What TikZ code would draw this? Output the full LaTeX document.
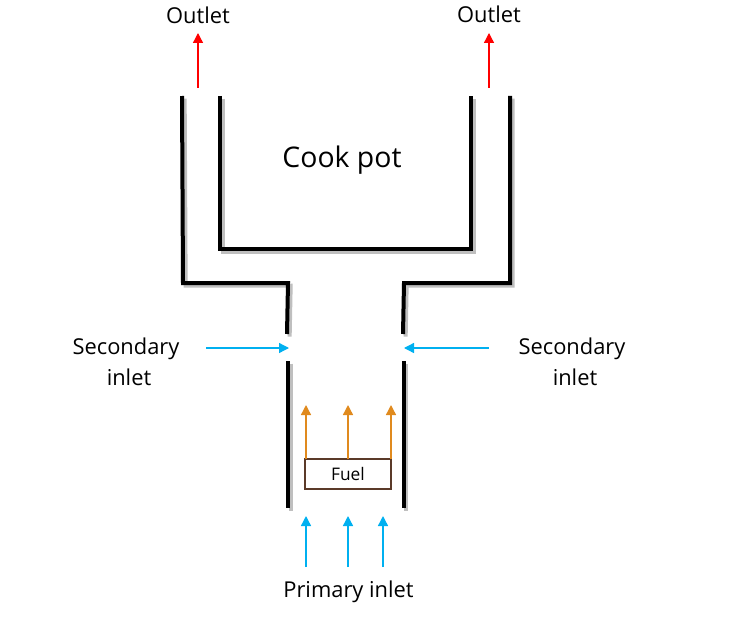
\documentclass[tikz,border=0pt]{standalone}
\usepackage{fontspec}
\setmainfont{Open Sans}
\usetikzlibrary{arrows.meta}
\definecolor{cblue}{HTML}{00B0F0}
\definecolor{corange}{HTML}{E08A1E}
\definecolor{cbrown}{HTML}{5B3A29}
\tikzset{x=0.75pt,y=-0.75pt,
 wall/.style={line width=3pt,black,line cap=butt,line join=miter},
 wallshadow/.style={line width=3pt,black!25,line cap=butt,line join=miter,xshift=2pt,yshift=-2pt},
 arrowline/.style={line width=1pt,-{Triangle[length=7.5pt,width=7.5pt]}},
 flowred/.style={arrowline,red},
 flowblue/.style={arrowline,cblue},
 floworange/.style={arrowline,corange},
 lab/.style={font=\fontsize{16.4}{23.2}\selectfont,align=center,text=black,inner sep=0pt},
 fuelbox/.style={draw=cbrown,line width=1.1pt,fill=white,minimum width=64.5pt,minimum height=22.5pt,inner sep=0pt,font=\fontsize{13}{15}\selectfont}}
\begin{document}
\begin{tikzpicture}
\useasboundingbox (0,0) rectangle (735,635);
\foreach \s in {wallshadow,wall}{
\draw[\s] (182,96) -- (183,283) -- (288,283) -- (287,334);
\draw[\s] (510,96) -- (510,283) -- (404,283) -- (403,334);
\draw[\s] (220,96) -- (220,249) -- (471,249) -- (471,96);
\draw[\s] (288,361) -- (288,508);
\draw[\s] (403.5,361) -- (403.5,508);
}
\node[fuelbox] (fuel) at (348,474) {Fuel};
\node[lab] (out1) at (198,15) {Outlet};
\node[lab] (out2) at (489,14) {Outlet};
\node[lab,font=\fontsize{21.3}{25}\selectfont] (pot) at (342,160) {Cook pot};
\node[lab] (sec1) at (126,361.5) {Secondary\\\hspace*{4.5pt}inlet};
\node[lab] (sec2) at (572,361.5) {Secondary\\\hspace*{4.5pt}inlet};
\node[lab] (prim) at (348.5,592) {Primary inlet};
\coordinate (r1) at (198,88); \coordinate (r1t) at (198,33);
\coordinate (r2) at (489,88); \coordinate (r2t) at (489,33);
\draw[flowred] (r1) -- (r1t);
\draw[flowred] (r2) -- (r2t);
\coordinate (s1) at (206,348); \coordinate (s1t) at (289,348);
\coordinate (s2) at (489,348); \coordinate (s2t) at (404,348);
\draw[flowblue] (s1) -- (s1t);
\draw[flowblue] (s2) -- (s2t);
\foreach \x/\n in {306/a,348/b,383/c}{
 \coordinate (p\n) at (\x,567); \coordinate (p\n t) at (\x,516);
 \draw[flowblue] (p\n) -- (p\n t);
}
\foreach \x/\n in {306/a,348/b,391/c}{
 \coordinate (f\n) at (\x,459); \coordinate (f\n t) at (\x,405);
 \draw[floworange] (f\n) -- (f\n t);
}
\end{tikzpicture}
\end{document}
